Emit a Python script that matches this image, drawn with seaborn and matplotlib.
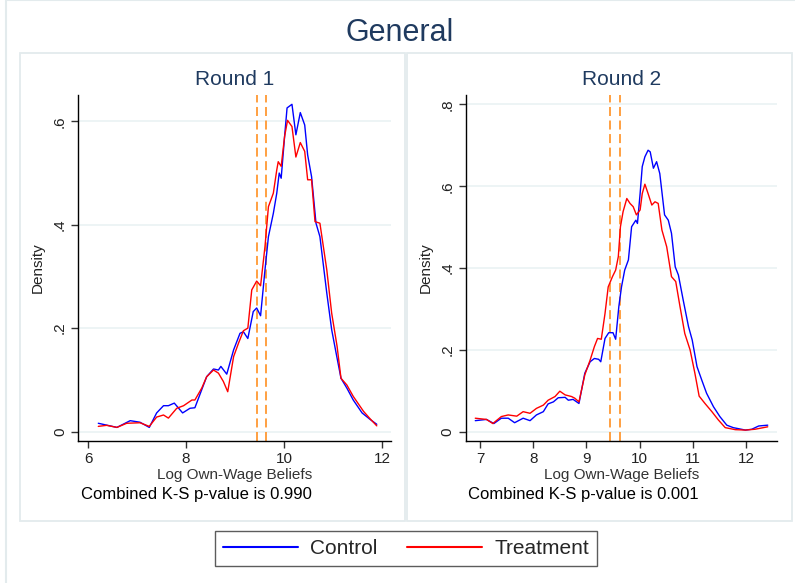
import numpy as np
import pandas as pd
import seaborn as sns
import matplotlib.pyplot as plt
from matplotlib.patches import Rectangle

# ---------------- data ----------------
r1_control_x = [6.21, 6.59, 6.86, 7.06, 7.25, 7.40, 7.54, 7.64, 7.76, 7.93, 8.08, 8.18, 8.32, 8.42,
                8.56, 8.66, 8.71, 8.83, 8.97, 9.10, 9.17, 9.26, 9.37, 9.44, 9.52, 9.61, 9.68, 9.78,
                9.85, 9.90, 9.94, 10.01, 10.06, 10.16, 10.24, 10.33, 10.42, 10.48, 10.56, 10.65,
                10.73, 10.87, 10.97, 11.06, 11.16, 11.28, 11.41, 11.59, 11.76, 11.89]
r1_control_y = [0.016, 0.008, 0.021, 0.018, 0.008, 0.036, 0.050, 0.050, 0.055, 0.036, 0.045, 0.046,
                0.081, 0.106, 0.121, 0.119, 0.126, 0.111, 0.158, 0.190, 0.193, 0.180, 0.232, 0.239,
                0.224, 0.313, 0.377, 0.422, 0.461, 0.500, 0.490, 0.571, 0.626, 0.633, 0.574, 0.617,
                0.593, 0.535, 0.493, 0.403, 0.377, 0.268, 0.197, 0.152, 0.103, 0.084, 0.061, 0.036,
                0.023, 0.014]

r1_treat_x = [6.21, 6.38, 6.59, 6.79, 7.06, 7.25, 7.40, 7.54, 7.64, 7.81, 7.95, 8.12, 8.18, 8.32,
              8.42, 8.56, 8.66, 8.76, 8.85, 8.97, 9.07, 9.17, 9.26, 9.34, 9.44, 9.52, 9.61, 9.68,
              9.78, 9.85, 9.88, 9.94, 10.01, 10.07, 10.16, 10.24, 10.33, 10.42, 10.48, 10.56,
              10.63, 10.73, 10.87, 10.97, 11.08, 11.16, 11.28, 11.41, 11.62, 11.76, 11.89]
r1_treat_y = [0.010, 0.012, 0.008, 0.016, 0.017, 0.010, 0.028, 0.032, 0.026, 0.045, 0.050, 0.061,
              0.061, 0.084, 0.106, 0.119, 0.113, 0.097, 0.077, 0.145, 0.171, 0.195, 0.200, 0.274,
              0.291, 0.282, 0.358, 0.435, 0.461, 0.506, 0.522, 0.513, 0.571, 0.602, 0.590, 0.531,
              0.559, 0.542, 0.487, 0.487, 0.406, 0.403, 0.313, 0.229, 0.165, 0.103, 0.090, 0.068,
              0.039, 0.024, 0.011]

r2_control_x = [6.91, 7.12, 7.26, 7.40, 7.53, 7.65, 7.81, 7.94, 8.06, 8.19, 8.28, 8.38, 8.47, 8.60,
                8.66, 8.75, 8.86, 8.97, 9.07, 9.15, 9.23, 9.27, 9.35, 9.42, 9.50, 9.55, 9.61, 9.66,
                9.72, 9.79, 9.85, 9.93, 9.96, 10.01, 10.05, 10.10, 10.16, 10.20, 10.26, 10.32,
                10.38, 10.47, 10.54, 10.60, 10.67, 10.73, 10.82, 10.92, 10.99, 11.08, 11.17, 11.26,
                11.39, 11.51, 11.64, 11.76, 11.99, 12.11, 12.24, 12.41]
r2_control_y = [0.027, 0.030, 0.020, 0.033, 0.033, 0.022, 0.033, 0.027, 0.041, 0.049, 0.068, 0.073,
                0.083, 0.084, 0.077, 0.079, 0.069, 0.143, 0.171, 0.179, 0.177, 0.171, 0.228, 0.242,
                0.242, 0.226, 0.306, 0.354, 0.395, 0.420, 0.501, 0.517, 0.509, 0.582, 0.648, 0.672,
                0.688, 0.684, 0.644, 0.660, 0.631, 0.530, 0.517, 0.485, 0.403, 0.383, 0.322, 0.257,
                0.224, 0.159, 0.126, 0.094, 0.061, 0.037, 0.016, 0.010, 0.004, 0.006, 0.014, 0.016]

r2_treat_x = [6.91, 7.12, 7.24, 7.40, 7.53, 7.69, 7.81, 7.94, 8.06, 8.19, 8.28, 8.41, 8.50, 8.60,
              8.72, 8.78, 8.86, 8.97, 9.07, 9.15, 9.21, 9.28, 9.35, 9.41, 9.49, 9.55, 9.60, 9.64,
              9.69, 9.76, 9.82, 9.88, 9.94, 10.01, 10.05, 10.10, 10.16, 10.23, 10.29, 10.35, 10.42,
              10.51, 10.60, 10.68, 10.76, 10.85, 10.95, 11.04, 11.12, 11.23, 11.36, 11.48, 11.61,
              11.80, 11.99, 12.17, 12.41]
r2_treat_y = [0.033, 0.030, 0.020, 0.037, 0.041, 0.038, 0.049, 0.045, 0.057, 0.065, 0.077, 0.086,
              0.099, 0.090, 0.086, 0.082, 0.073, 0.139, 0.175, 0.208, 0.228, 0.226, 0.289, 0.354,
              0.379, 0.395, 0.428, 0.501, 0.538, 0.570, 0.558, 0.550, 0.530, 0.542, 0.582, 0.605,
              0.582, 0.554, 0.562, 0.558, 0.493, 0.452, 0.379, 0.367, 0.306, 0.240, 0.200, 0.143,
              0.087, 0.069, 0.049, 0.029, 0.010, 0.005, 0.004, 0.006, 0.012]

groups = ["Control", "Treatment"]
vlines = [9.44, 9.64]
panel_titles = ["Round 1", "Round 2"]
pvalues = ["0.990", "0.001"]
r1_xticks = [6, 8, 10, 12]
r2_xticks = [7, 8, 9, 10, 11, 12]
r1_yticks = [0, 0.2, 0.4, 0.6]
r1_ylabels = ["0", ".2", ".4", ".6"]
r2_yticks = [0, 0.2, 0.4, 0.6, 0.8]
r2_ylabels = ["0", ".2", ".4", ".6", ".8"]

# ---------------- styling ----------------
sns.set_theme(style="white")
plt.rcParams['font.family'] = ['Liberation Sans', 'DejaVu Sans']

W, H = 795, 583
fig = plt.figure(figsize=(W / 100, H / 100), dpi=100)
fig.patch.set_facecolor("white")

def fx(px):
    return px / W

def fy(py):
    return 1 - py / H

border_col = "#E3EBED"
# outer graph region border (left/top visible)
fig.patches.append(Rectangle((fx(6), fy(600)), fx(800), 600 / H, transform=fig.transFigure,
                             fill=False, edgecolor=border_col, lw=1.5, zorder=0))
# panel boxes
for (x0, x1) in [(20, 405), (407, 792)]:
    fig.patches.append(Rectangle((fx(x0), fy(521)), fx(x1 - x0), (521 - 53) / H,
                                 transform=fig.transFigure, fill=False,
                                 edgecolor=border_col, lw=1.3, zorder=0))

pal = {"Control": "#0000FF", "Treatment": "#FF0000"}
title_col = "#1F3A5F"

def make_df(cx, cy, tx, ty):
    d1 = pd.DataFrame({"x": cx, "density": cy, "group": groups[0]})
    d2 = pd.DataFrame({"x": tx, "density": ty, "group": groups[1]})
    return pd.concat([d1, d2], ignore_index=True)

df1 = make_df(r1_control_x, r1_control_y, r1_treat_x, r1_treat_y)
df2 = make_df(r2_control_x, r2_control_y, r2_treat_x, r2_treat_y)

ax1 = fig.add_axes([fx(78), fy(441), fx(391 - 78), (441 - 95) / H])
ax2 = fig.add_axes([fx(465.7), fy(441), fx(777.3 - 465.7), (441 - 95) / H])

configs = [
    (ax1, df1, (5.796, 12.18), (-0.0183, 0.651), r1_xticks, r1_yticks, r1_ylabels, 81),
    (ax2, df2, (6.73, 12.59), (-0.0227, 0.823), r2_xticks, r2_yticks, r2_ylabels, 468),
]

for i, (ax, df, xl, yl, xt, yt, ytl, txt_x) in enumerate(configs):
    ax.set_facecolor("white")
    for y in yt:
        ax.axhline(y, color="#EAF2F3", lw=1.2, zorder=0)
    sns.lineplot(data=df, x="x", y="density", hue="group", palette=pal, ax=ax,
                 estimator=None, lw=1.0, legend=(i == 0), zorder=3)
    for v in vlines:
        ax.axvline(v, color="#FF9933", lw=1.3, linestyle=(0, (5, 2.5)), zorder=2)
    ax.set_xlim(*xl)
    ax.set_ylim(*yl)
    ax.set_xticks(xt)
    ax.set_xticklabels([str(t) for t in xt])
    ax.set_yticks(yt)
    ax.set_yticklabels(ytl, rotation=90, va="center")
    for s in ["top", "right"]:
        ax.spines[s].set_visible(False)
    for s in ["left", "bottom"]:
        ax.spines[s].set_color("black")
        ax.spines[s].set_linewidth(1.0)
    ax.tick_params(axis="both", direction="out", length=5, width=1, color="#333333",
                   labelsize=11, labelcolor="#222222", pad=3, left=True, bottom=True)
    ax.set_xlabel("Log Own-Wage Beliefs", fontsize=11, color="#333333", labelpad=1)
    ax.set_ylabel("Density", fontsize=11, color="#222222", labelpad=6)
    ax.set_title(panel_titles[i], fontsize=15, color=title_col, pad=7)
    fig.text(fx(txt_x), fy(495), "Combined K-S p-value is " + pvalues[i],
             fontsize=12, color="black", va="center", ha="left")

handles, labels = ax1.get_legend_handles_labels()
ax1.get_legend().remove()

fig.suptitle("General", x=fx(400), y=fy(33), fontsize=22, color=title_col, va="center")

leg = fig.legend(handles, labels, loc="center", bbox_to_anchor=(fx(406), fy(548.5)),
                 ncol=2, fontsize=15, frameon=True, fancybox=False, handlelength=3.6,
                 handletextpad=0.6, columnspacing=1.4, borderpad=0.4)
leg.get_frame().set_edgecolor("#333333")
leg.get_frame().set_linewidth(1.0)
for lh in leg.get_lines():
    lh.set_linewidth(1.5)

fig.savefig("out.png", dpi=100, facecolor="white")
